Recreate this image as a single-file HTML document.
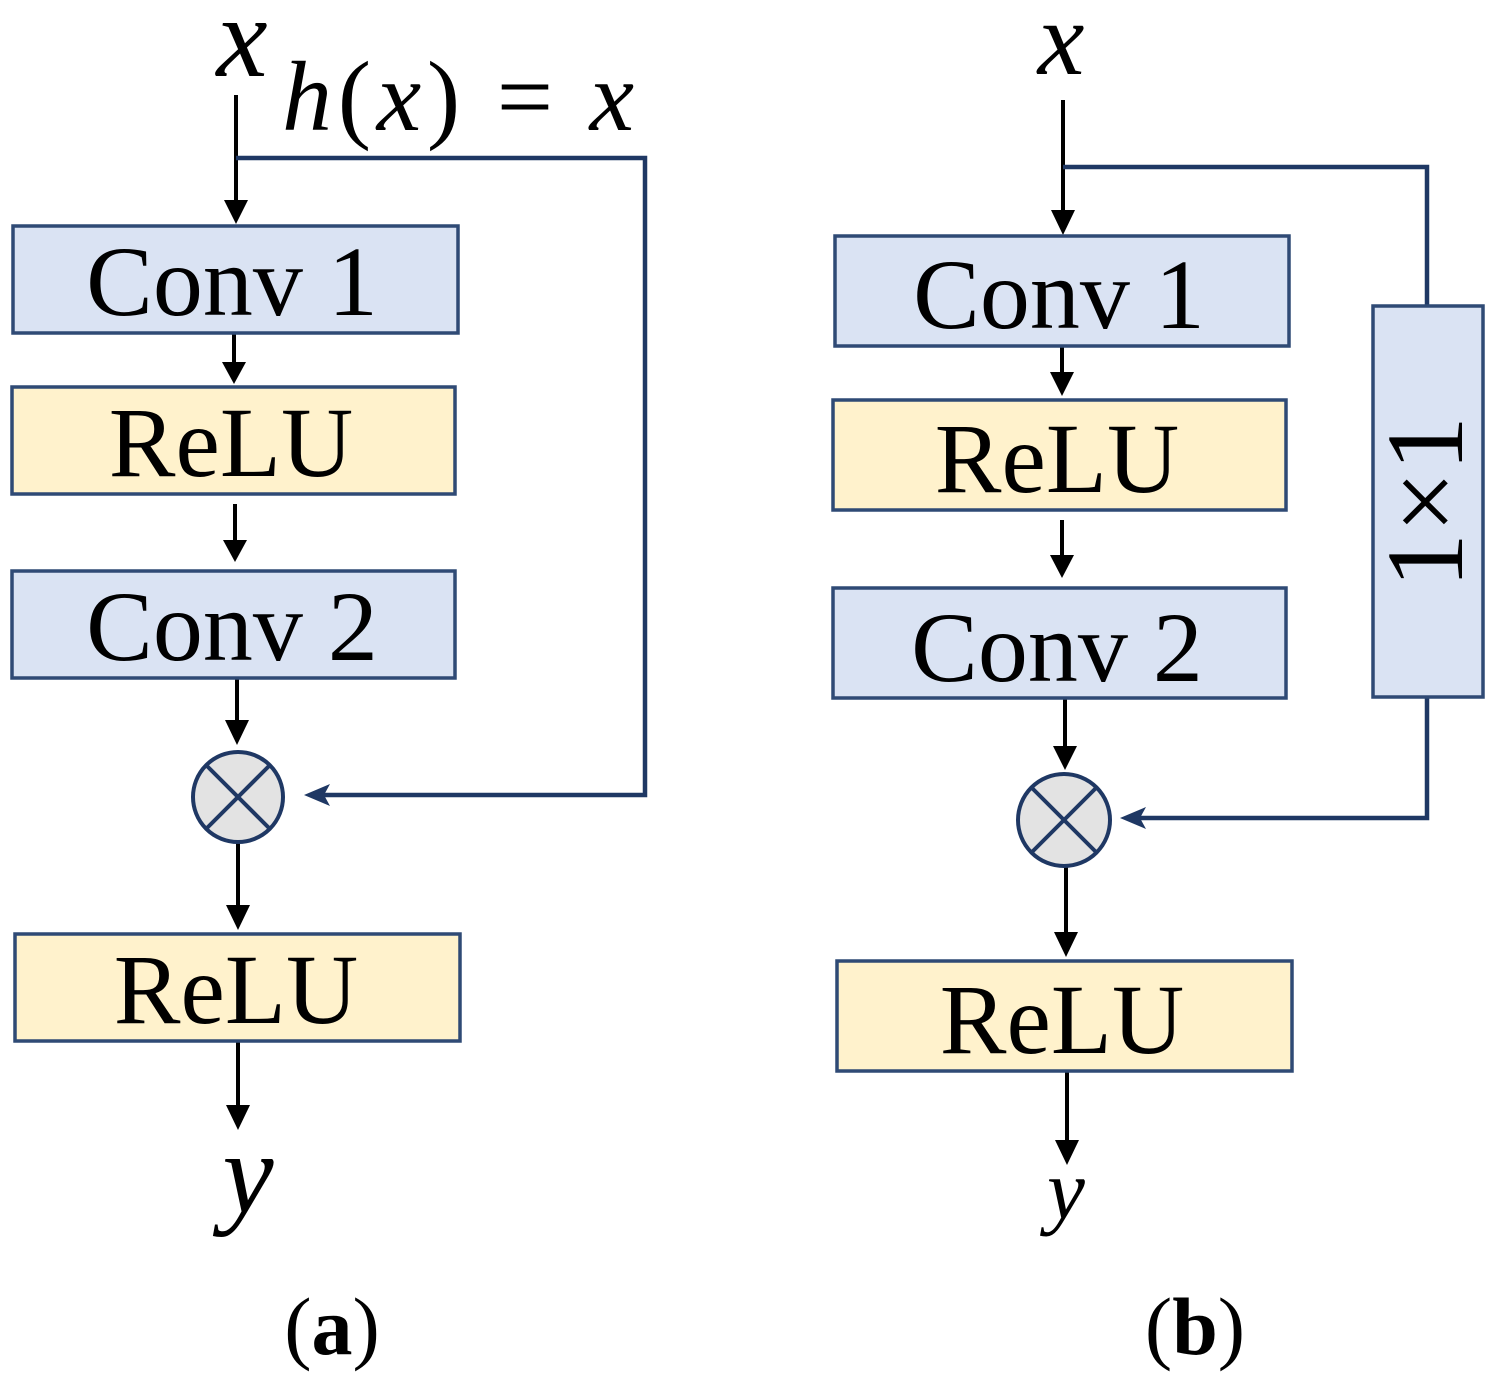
<!DOCTYPE html>
<html><head><meta charset="utf-8"><style>
html,body{margin:0;padding:0;background:#fff}
svg{display:block}
text{font-family:"Liberation Serif",serif;fill:#000}
</style></head><body>
<svg width="1495" height="1386" viewBox="0 0 1495 1386" xmlns="http://www.w3.org/2000/svg">
<g stroke="#000" stroke-width="4" fill="none">
<line x1="236" y1="95" x2="236" y2="208"/>
<line x1="234" y1="333" x2="234" y2="370"/>
<line x1="235" y1="504" x2="235" y2="548"/>
<line x1="237" y1="678" x2="237" y2="728"/>
<line x1="238" y1="842" x2="238" y2="913"/>
<line x1="238" y1="1041" x2="238" y2="1113"/>
<line x1="1063" y1="100" x2="1063" y2="218"/>
<line x1="1062" y1="346" x2="1062" y2="380"/>
<line x1="1062" y1="520" x2="1062" y2="563"/>
<line x1="1065" y1="698" x2="1065" y2="754"/>
<line x1="1066" y1="866" x2="1066" y2="940"/>
<line x1="1067" y1="1071" x2="1067" y2="1148"/>
</g>
<g fill="#000">
<path d="M224,200 L248,200 L236,224 z"/>
<path d="M222,362 L246,362 L234,384 z"/>
<path d="M223,540 L247,540 L235,562 z"/>
<path d="M225,720 L249,720 L237,745 z"/>
<path d="M226,905 L250,905 L238,930 z"/>
<path d="M226,1105 L250,1105 L238,1130 z"/>
<path d="M1051,210 L1075,210 L1063,235 z"/>
<path d="M1050,372 L1074,372 L1062,396 z"/>
<path d="M1050,555 L1074,555 L1062,578 z"/>
<path d="M1053,746 L1077,746 L1065,770 z"/>
<path d="M1054,932 L1078,932 L1066,957 z"/>
<path d="M1055,1140 L1079,1140 L1067,1165 z"/>
</g>
<g stroke="#1f3864" stroke-width="4.5" fill="none">
<polyline points="236,158 645,158 645,795 312,795"/>
<polyline points="1063,167 1427,167 1427,306"/>
<polyline points="1427,697 1427,818 1128,818"/>
</g>
<path d="M304,795 L330,784 L324,795 L330,806 z" fill="#1f3864"/>
<path d="M1120,818 L1146,807 L1140,818 L1146,829 z" fill="#1f3864"/>
<g stroke="#2f4a75" stroke-width="3.5">
<rect x="13" y="226" width="445" height="107" fill="#dae3f3"/>
<rect x="12" y="387" width="443" height="107" fill="#fff2cc"/>
<rect x="12" y="571" width="443" height="107" fill="#dae3f3"/>
<rect x="15" y="934" width="445" height="107" fill="#fff2cc"/>
<rect x="835" y="236" width="454" height="110" fill="#dae3f3"/>
<rect x="833" y="400" width="453" height="110" fill="#fff2cc"/>
<rect x="833" y="588" width="453" height="110" fill="#dae3f3"/>
<rect x="837" y="961" width="455" height="110" fill="#fff2cc"/>
<rect x="1373" y="306" width="110" height="391" fill="#dae3f3"/>
</g>
<g stroke="#1f3864" stroke-width="4">
<circle cx="238" cy="797" r="45" fill="#e3e3e3"/>
<line x1="206" y1="765" x2="270" y2="829"/>
<line x1="270" y1="765" x2="206" y2="829"/>
<circle cx="1064" cy="820" r="46" fill="#e3e3e3"/>
<line x1="1031" y1="787" x2="1097" y2="853"/>
<line x1="1097" y1="787" x2="1031" y2="853"/>
</g>
<g font-size="100" text-anchor="middle">
<text x="232" y="315">Conv 1</text>
<text x="231" y="476">ReLU</text>
<text x="232" y="660">Conv 2</text>
<text x="236" y="1023">ReLU</text>
<text x="1059" y="328">Conv 1</text>
<text x="1057" y="492">ReLU</text>
<text x="1057" y="681">Conv 2</text>
<text x="1062" y="1053">ReLU</text>
<text transform="translate(1462,502) rotate(-90)" font-size="110">1×1</text>
</g>
<g font-style="italic" text-anchor="middle">
<text x="242" y="76" font-size="115">x</text>
<text x="248" y="1212" font-size="115">y</text>
<text x="1061" y="74" font-size="105">x</text>
<text x="1066" y="1218" font-size="85">y</text>
</g>
<text x="282" y="130" font-size="100" textLength="352" lengthAdjust="spacing"><tspan font-style="italic">h</tspan>(<tspan font-style="italic">x</tspan>) = <tspan font-style="italic">x</tspan></text>
<text x="332" y="1354" font-size="82" text-anchor="middle">(<tspan font-weight="bold">a</tspan>)</text>
<text x="1195" y="1354" font-size="82" text-anchor="middle">(<tspan font-weight="bold">b</tspan>)</text>
</svg>
</body></html>
